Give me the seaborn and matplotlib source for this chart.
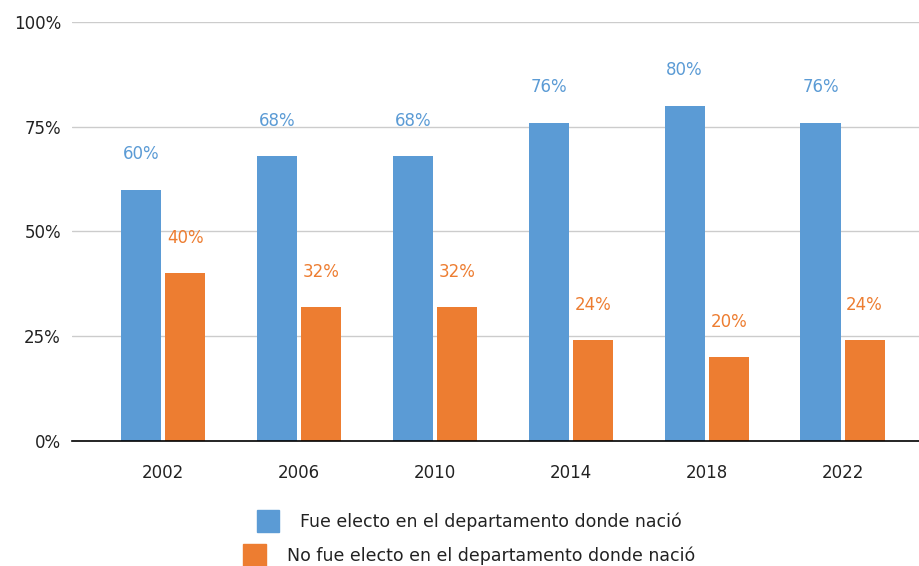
import seaborn as sns
import pandas as pd
import matplotlib.pyplot as plt
from matplotlib.patches import Patch

years = ["2002", "2006", "2010", "2014", "2018", "2022"]
electo_si = [60, 68, 68, 76, 80, 76]
electo_no = [40, 32, 32, 24, 20, 24]
serie_si = "Fue electo en el departamento donde nació"
serie_no = "No fue electo en el departamento donde nació"
y_ticks = [0, 25, 50, 75, 100]

blue = "#5B9BD5"
orange = "#ED7D31"
fs = 12

data = pd.DataFrame({
    "Año": years * 2,
    "Valor": electo_si + electo_no,
    "Serie": [serie_si] * len(years) + [serie_no] * len(years),
})

sns.set_style("white")
plt.rcParams["font.family"] = ["DejaVu Sans"]

fig = plt.figure(figsize=(9.2, 5.66), dpi=100)
ax = fig.add_axes([72 / 920, 1 - 441 / 566, 1 - 72 / 920, (441 - 22) / 566])

sns.barplot(data, x="Año", y="Valor", hue="Serie", order=years,
            hue_order=[serie_si, serie_no], palette=[blue, orange],
            saturation=1, width=0.648, gap=0.09, errorbar=None, ax=ax,
            legend=False, linewidth=0)

for cont, col in zip(ax.containers, [blue, orange]):
    ax.bar_label(cont, labels=[f"{v:.0f}%" for v in cont.datavalues],
                 padding=19, color=col, fontsize=fs)

ax.set_ylim(0, 100)
ax.set_xlim(-0.67, 5.57)
ax.set_yticks(y_ticks)
ax.set_yticklabels([f"{t}%" for t in y_ticks])
ax.yaxis.grid(True, color="#CCCCCC", linewidth=1)
ax.set_axisbelow(True)
for s in ["top", "right", "left"]:
    ax.spines[s].set_visible(False)
ax.spines["bottom"].set_color("black")
ax.spines["bottom"].set_linewidth(1.2)
ax.spines["bottom"].set_zorder(5)
ax.tick_params(axis="x", direction="inout", length=17, width=1.2,
               color="black", pad=8, labelsize=fs, labelcolor="#222222")
ax.tick_params(axis="y", length=0, pad=8, labelsize=fs, labelcolor="#222222")
ax.set_xlabel("")
ax.set_ylabel("")

# one legend per row so each entry is centred on its own, like the original
fig.legend(handles=[Patch(color=blue)], labels=[serie_si],
           loc="center", bbox_to_anchor=(0.51, 1 - 521 / 566),
           frameon=False, fontsize=12.5, labelcolor="#222222",
           handlelength=1.3, handleheight=1.5, handletextpad=1.2)
fig.legend(handles=[Patch(color=orange)], labels=[serie_no],
           loc="center", bbox_to_anchor=(0.51, 1 - 555 / 566),
           frameon=False, fontsize=12.5, labelcolor="#222222",
           handlelength=1.3, handleheight=1.5, handletextpad=1.2)

fig.savefig("out.png", dpi=100)
